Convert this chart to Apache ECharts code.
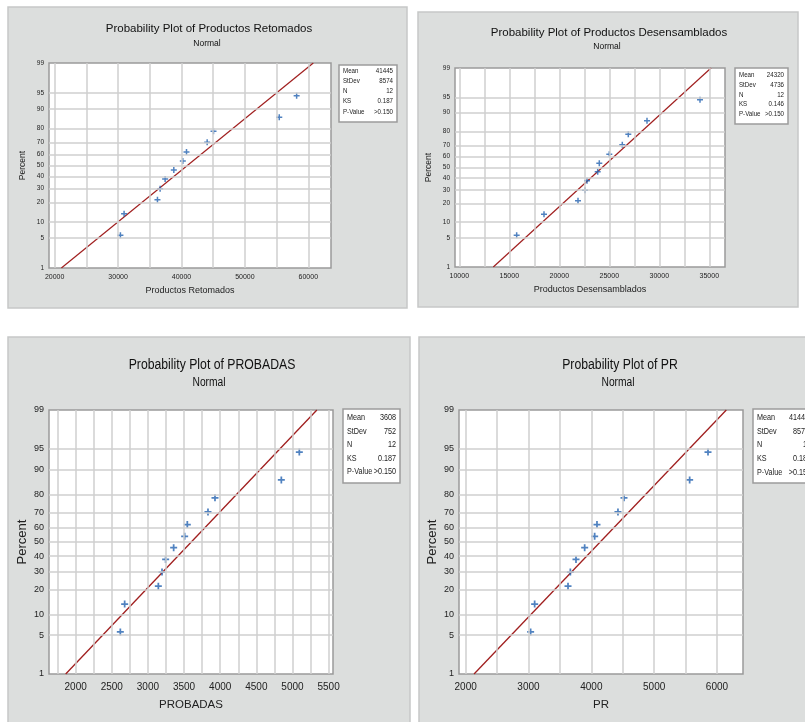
<!DOCTYPE html>
<html>
<head>
<meta charset="utf-8">
<script src="https://cdn.jsdelivr.net/npm/echarts@6/dist/echarts.min.js"></script>
<style>
  html, body { margin: 0; padding: 0; background: #fff; }
  #chart { width: 805px; height: 722px; }
</style>
</head>
<body>
<div id="chart"></div>
<script>
// percent ticks of the normal probability scale
var percentTicks = [1, 5, 10, 20, 30, 40, 50, 60, 70, 80, 90, 95, 99];

var productosRetomados = [30368, 30947, 36210, 36630, 37420, 38790, 40210, 40790, 44050, 45050, 55420, 58160];
var productosDesensamblados = [15737, 18470, 21870, 22570, 22770, 23840, 24000, 25000, 26300, 26900, 28770, 34070];
var probadas = [2618, 2678, 3144, 3195, 3245, 3356, 3508, 3545, 3831, 3928, 4846, 5095];
var pr = [3034, 3098, 3629, 3666, 3756, 3894, 4053, 4090, 4424, 4520, 5565, 5857];

// fitted normal lines (mean, stdev) as drawn in red
var fitMean = [40920, 24285, 3600, 4141];
var fitStdev = [8540, 4680, 747, 863];

// x axis tick labels and vertical grid lines
var xLabels1 = [20000, 30000, 40000, 50000, 60000];
var xGrid1 = [20000, 25000, 30000, 35000, 40000, 45000, 50000, 55000, 60000];
var xLabels2 = [10000, 15000, 20000, 25000, 30000, 35000];
var xGrid2 = [10000, 12500, 15000, 17500, 20000, 22500, 25000, 27500, 30000, 32500, 35000];
var xLabels3 = [2000, 2500, 3000, 3500, 4000, 4500, 5000, 5500];
var xGrid3 = [1750, 2000, 2250, 2500, 2750, 3000, 3250, 3500, 3750, 4000, 4250, 4500, 4750, 5000, 5250, 5500];
var xLabels4 = [2000, 3000, 4000, 5000, 6000];
var xGrid4 = [2000, 2500, 3000, 3500, 4000, 4500, 5000, 5500, 6000];

// stats boxes
var statNames = ['Mean', 'StDev', 'N', 'KS', 'P-Value'];
var stats1 = ['41445', '8574', '12', '0.187', '>0.150'];
var stats2 = ['24320', '4736', '12', '0.146', '>0.150'];
var stats3 = ['3608', '752', '12', '0.187', '>0.150'];
var stats4 = ['4144.5', '857.4', '12', '0.187', '>0.150'];

var titles = ['Probability Plot of Productos Retomados', 'Probability Plot of Productos Desensamblados',
              'Probability Plot of PROBADAS', 'Probability Plot of PR'];
var xNames = ['Productos Retomados', 'Productos Desensamblados', 'PROBADAS', 'PR'];

var FONT = "'Liberation Sans', Arial, sans-serif";

// inverse standard normal (Acklam)
function normInv(p) {
    var a = [-3.969683028665376e+01, 2.209460984245205e+02, -2.759285104469687e+02, 1.383577518672690e+02, -3.066479806614716e+01, 2.506628277459239e+00],
        b = [-5.447609879822406e+01, 1.615858368580409e+02, -1.556989798598866e+02, 6.680131188771972e+01, -1.328068155288572e+01],
        c = [-7.784894002430293e-03, -3.223964580411365e-01, -2.400758277161838e+00, -2.549732539343734e+00, 4.374664141464968e+00, 2.938163982698783e+00],
        d = [7.784695709041462e-03, 3.224671290700398e-01, 2.445134137142996e+00, 3.754408661907416e+00],
        pl = 0.02425, q, r;
    if (p < pl) {
        q = Math.sqrt(-2 * Math.log(p));
        return (((((c[0] * q + c[1]) * q + c[2]) * q + c[3]) * q + c[4]) * q + c[5]) / ((((d[0] * q + d[1]) * q + d[2]) * q + d[3]) * q + 1);
    }
    if (p > 1 - pl) {
        q = Math.sqrt(-2 * Math.log(1 - p));
        return -(((((c[0] * q + c[1]) * q + c[2]) * q + c[3]) * q + c[4]) * q + c[5]) / ((((d[0] * q + d[1]) * q + d[2]) * q + d[3]) * q + 1);
    }
    q = p - 0.5; r = q * q;
    return (((((a[0] * r + a[1]) * r + a[2]) * r + a[3]) * r + a[4]) * r + a[5]) * q / (((((b[0] * r + b[1]) * r + b[2]) * r + b[3]) * r + b[4]) * r + 1);
}

var zTicks = percentTicks.map(function (p) { return normInv(p / 100); });
var zMin = zTicks[0], zMax = zTicks[zTicks.length - 1];

// layout of the four panels (pixels)
var layout = [
    { panel: [8, 7, 399, 301], grid: [49, 63, 282, 205], xmin: 19105, xmax: 63580, data: productosRetomados, xl: xLabels1, xg: xGrid1, stats: stats1,
      box: [339, 65, 58, 57], rows: [71, 81, 91, 101, 112], small: true, titleX: 209, titleY: 23, subX: 207, subY: 39, nameGapX: 18, nameGapY: 22, valRight: 54 },
    { panel: [418, 12, 380, 295], grid: [455, 68, 270, 199], xmin: 9570, xmax: 36570, data: productosDesensamblados, xl: xLabels2, xg: xGrid2, stats: stats2,
      box: [735, 68, 53, 56], rows: [75, 85, 95, 104, 114], small: true, titleX: 609, titleY: 27, subX: 607, subY: 42, nameGapX: 18, nameGapY: 22, valRight: 49 },
    { panel: [8, 337, 402, 400], grid: [49, 410, 284, 264], xmin: 1631, xmax: 5561, data: probadas, xl: xLabels3, xg: xGrid3, stats: stats3,
      box: [343, 409, 57, 74], rows: [418, 432, 445, 459, 472], small: false, titleX: 212, titleY: 357, subX: 209, subY: 376, nameGapX: 25, nameGapY: 20, valRight: 53 },
    { panel: [419, 337, 400, 400], grid: [459, 410, 284, 264], xmin: 1894, xmax: 6414, data: pr, xl: xLabels4, xg: xGrid4, stats: stats4,
      box: [753, 409, 64, 74], rows: [418, 432, 445, 459, 473], small: false, titleX: 620, titleY: 357, subX: 618, subY: 376, nameGapX: 25, nameGapY: 20, valRight: 58 }
];

var grids = [], xAxes = [], yAxes = [], series = [], graphics = [];
var plusSymbol = 'path://M3,0H5V3H8V5H5V8H3V5H0V3H3Z';

layout.forEach(function (L, i) {
    var s = L.small;
    graphics.push({
        type: 'rect', z: -10, silent: true,
        shape: { x: L.panel[0], y: L.panel[1], width: L.panel[2], height: L.panel[3] },
        style: { fill: '#dcdedd', stroke: '#c6c8c7', lineWidth: 1.5 }
    });
    // titles (bottom ones are condensed like the original)
    graphics.push({
        type: 'text', silent: true, x: L.titleX, y: L.titleY, scaleX: s ? 1 : 0.79,
        style: { text: titles[i], fill: '#111', font: (s ? '11.5px ' : '15.5px ') + FONT, align: 'center', verticalAlign: 'top' }
    });
    graphics.push({
        type: 'text', silent: true, x: L.subX, y: L.subY, scaleX: s ? 1 : 0.82,
        style: { text: 'Normal', fill: '#111', font: (s ? '8.5px ' : '12.5px ') + FONT, align: 'center', verticalAlign: 'top' }
    });
    // stats box
    graphics.push({
        type: 'rect', silent: true,
        shape: { x: L.box[0], y: L.box[1], width: L.box[2], height: L.box[3] },
        style: { fill: '#fff', stroke: '#9c9c9c', lineWidth: 1.5 }
    });
    statNames.forEach(function (nm, k) {
        graphics.push({
            type: 'text', silent: true, x: L.box[0] + 4, y: L.rows[k], scaleX: s ? 0.95 : 0.85,
            style: { text: nm, fill: '#222', font: (s ? '6.5px ' : '8.5px ') + FONT, verticalAlign: 'middle' }
        });
        graphics.push({
            type: 'text', silent: true, x: L.box[0] + L.valRight, y: L.rows[k], scaleX: s ? 0.95 : 0.85,
            style: { text: L.stats[k], fill: '#222', font: (s ? '6.5px ' : '8.5px ') + FONT, align: 'right', verticalAlign: 'middle' }
        });
    });

    grids.push({
        left: L.grid[0], top: L.grid[1], width: L.grid[2], height: L.grid[3],
        show: true, backgroundColor: '#fff', borderColor: '#9a9a9a', borderWidth: 1.5
    });
    xAxes.push({
        type: 'value', gridIndex: i, min: L.xmin, max: L.xmax,
        axisLine: { show: false }, axisTick: { show: false }, splitLine: { show: false },
        axisLabel: {
            customValues: L.xl, color: '#222', fontSize: s ? 7 : 10, fontFamily: FONT, margin: s ? 6 : 8,
            formatter: function (v) { return String(v); }
        },
        name: xNames[i], nameLocation: 'middle', nameGap: L.nameGapX,
        nameTextStyle: { color: '#222', fontSize: s ? 9 : 11.5, fontFamily: FONT }
    });
    yAxes.push({
        type: 'value', gridIndex: i, min: zMin, max: zMax,
        axisLine: { show: false }, axisTick: { show: false }, splitLine: { show: false },
        axisLabel: {
            customValues: zTicks, color: '#222', fontSize: s ? 6.5 : 9, fontFamily: FONT, margin: 5,
            formatter: function (v) {
                for (var k = 0; k < zTicks.length; k++) {
                    if (Math.abs(zTicks[k] - v) < 1e-6) return String(percentTicks[k]);
                }
                return '';
            }
        },
        name: 'Percent', nameLocation: 'middle', nameGap: L.nameGapY,
        nameTextStyle: { color: '#222', fontSize: s ? 8.5 : 13, fontFamily: FONT }
    });

    // grid lines
    var gridLines = L.xg.map(function (v) { return { xAxis: v }; })
        .concat(zTicks.slice(1, -1).map(function (z) { return { yAxis: z }; }));
    series.push({
        type: 'scatter', xAxisIndex: i, yAxisIndex: i, data: [], silent: true, z: 1,
        markLine: {
            silent: true, symbol: 'none', label: { show: false }, animation: false,
            lineStyle: { color: '#cfcfcf', width: 1.5, type: 'solid' },
            emphasis: { disabled: true },
            data: gridLines
        }
    });
    // fitted line
    series.push({
        type: 'line', xAxisIndex: i, yAxisIndex: i, silent: true, z: 2,
        showSymbol: false,
        lineStyle: { color: '#a01f1f', width: s ? 1.2 : 1.3 },
        data: [[fitMean[i] + zMin * fitStdev[i], zMin], [fitMean[i] + zMax * fitStdev[i], zMax]]
    });
    // points with median-rank plotting positions
    var n = L.data.length;
    series.push({
        type: 'scatter', xAxisIndex: i, yAxisIndex: i, silent: true, z: 3,
        symbol: plusSymbol, symbolSize: s ? 6 : 7,
        itemStyle: { color: '#2463b0' },
        data: L.data.map(function (v, k) { return [v, normInv((k + 1 - 0.3) / (n + 0.4))]; })
    });
});

var chart = echarts.init(document.getElementById('chart'));
chart.setOption({
    animation: false,
    backgroundColor: '#fff',
    grid: grids,
    xAxis: xAxes,
    yAxis: yAxes,
    series: series,
    graphic: graphics
});
</script>
</body>
</html>
